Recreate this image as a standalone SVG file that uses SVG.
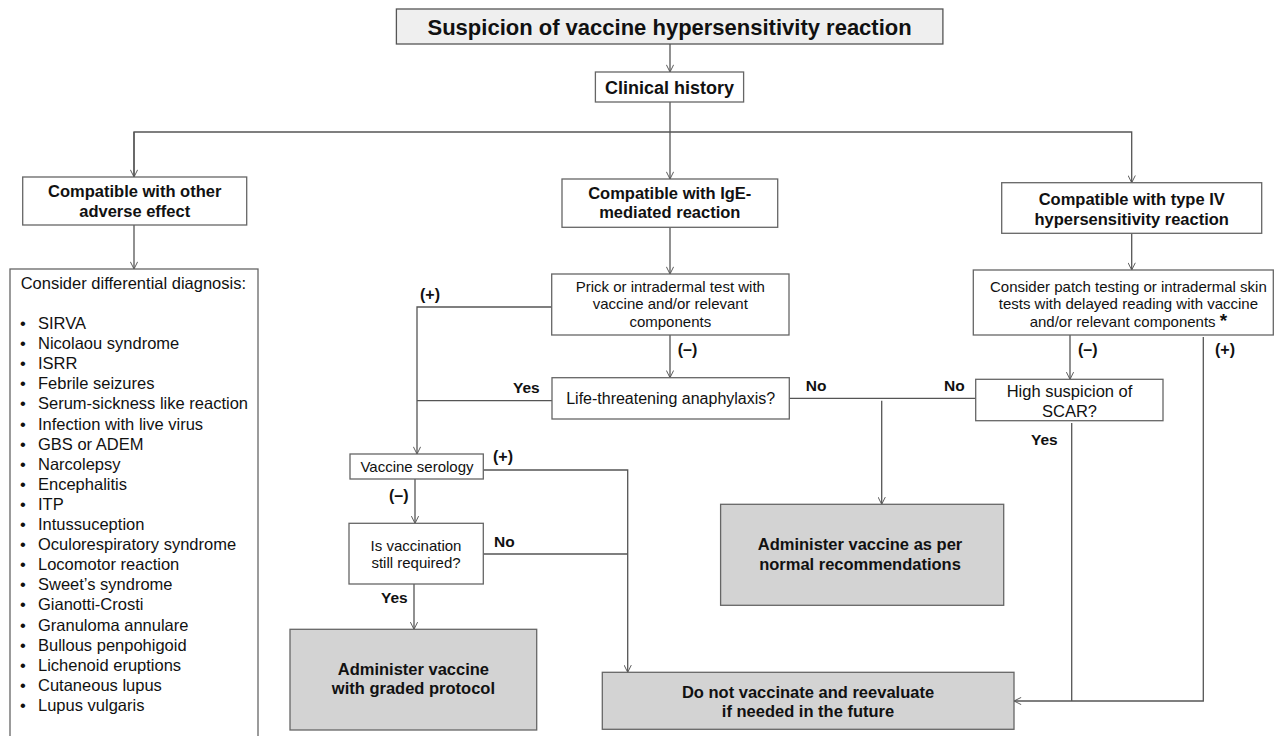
<svg xmlns="http://www.w3.org/2000/svg" width="1274" height="736" viewBox="0 0 1274 736">
<defs>
<marker id="arr" viewBox="0 0 10 10" refX="10" refY="5" markerWidth="8" markerHeight="8" markerUnits="userSpaceOnUse" orient="auto">
<path d="M1,0.5 L10,5 L1,9.5" fill="none" stroke="#555" stroke-width="1.2"/>
</marker>
</defs>
<style>
text{font-family:"Liberation Sans",Arial,sans-serif;fill:#111}
.box{fill:#fff;stroke:#666;stroke-width:1.3}
.gray{fill:#d3d3d3;stroke:#666;stroke-width:1.3}
.title{fill:#efefef;stroke:#555;stroke-width:1.3}
.b{font-weight:bold;font-size:16.5px;text-anchor:middle}
.r{font-size:15px;text-anchor:middle}
.lab{font-weight:bold;font-size:15.5px}
.ln{fill:none;stroke:#555;stroke-width:1.3}
.li{font-size:16.5px}
</style>
<rect width="1274" height="736" fill="#fff"/>
<g id="connectors">
<line class="ln" x1="670" y1="44" x2="670" y2="72" marker-end="url(#arr)"/>
<line class="ln" x1="670" y1="102" x2="670" y2="132"/>
<polyline class="ln" points="134,177 134,132 1131.7,132 1131.7,182.7" marker-end="url(#arr)"/>
<line class="ln" x1="134" y1="132" x2="134" y2="177" marker-end="url(#arr)"/>
<line class="ln" x1="670" y1="132" x2="670" y2="179" marker-end="url(#arr)"/>
<line class="ln" x1="134" y1="225" x2="134" y2="269" marker-end="url(#arr)"/>
<line class="ln" x1="670" y1="227" x2="670" y2="274" marker-end="url(#arr)"/>
<line class="ln" x1="1131.7" y1="233" x2="1131.7" y2="270" marker-end="url(#arr)"/>
<polyline class="ln" points="552,307 417,307 417,454" marker-end="url(#arr)"/>
<line class="ln" x1="417" y1="400.7" x2="552" y2="400.7"/>
<line class="ln" x1="670" y1="335" x2="670" y2="377.7" marker-end="url(#arr)"/>
<line class="ln" x1="789.3" y1="398.3" x2="976" y2="398.3"/>
<line class="ln" x1="881.7" y1="400.7" x2="881.7" y2="504.3" marker-end="url(#arr)"/>
<line class="ln" x1="1070" y1="335" x2="1070" y2="379.3" marker-end="url(#arr)"/>
<polyline class="ln" points="483.3,470 627.7,470 627.7,672.3" marker-end="url(#arr)"/>
<line class="ln" x1="483.3" y1="554" x2="627.7" y2="554"/>
<line class="ln" x1="415" y1="479" x2="415" y2="523.3" marker-end="url(#arr)"/>
<line class="ln" x1="414" y1="584" x2="414" y2="629.3" marker-end="url(#arr)"/>
<polyline class="ln" points="1203.3,337 1203.3,701 1014,701" marker-end="url(#arr)"/>
<line class="ln" x1="1071.7" y1="423" x2="1071.7" y2="701"/>
<text class="lab" x="420" y="300" style="font-size:16px">(+)</text>
<text class="lab" x="677.7" y="355" style="font-size:16px">(–)</text>
<text class="lab" x="513" y="392.7">Yes</text>
<text class="lab" x="805.7" y="390.7">No</text>
<text class="lab" x="944" y="390.7">No</text>
<text class="lab" x="1078" y="355" style="font-size:16px">(–)</text>
<text class="lab" x="1215" y="355" style="font-size:16px">(+)</text>
<text class="lab" x="1031" y="445">Yes</text>
<text class="lab" x="493" y="461.7" style="font-size:16px">(+)</text>
<text class="lab" x="389" y="500.7" style="font-size:16px">(–)</text>
<text class="lab" x="494" y="547">No</text>
<text class="lab" x="381" y="603">Yes</text>
</g>
<g id="title">
<rect class="title" x="396.4" y="9" width="546.5" height="35"/>
<text x="669.6" y="34.5" style="font-weight:bold;font-size:22px;text-anchor:middle">Suspicion of vaccine hypersensitivity reaction</text>
</g>
<g id="clinical-history">
<rect class="box" x="595.4" y="72" width="148.2" height="30"/>
<text x="669.5" y="93.5" style="font-weight:bold;font-size:18px;text-anchor:middle">Clinical history</text>
</g>
<g id="other-adverse">
<rect class="box" x="22.7" y="177" width="224" height="48"/>
<text class="b" x="134.7" y="197.3">Compatible with other</text>
<text class="b" x="134.7" y="216.7">adverse effect</text>
</g>
<g id="ige">
<rect class="box" x="562" y="179" width="215.7" height="48.3"/>
<text class="b" x="669.8" y="198.5">Compatible with IgE-</text>
<text class="b" x="669.8" y="218">mediated reaction</text>
</g>
<g id="type4">
<rect class="box" x="1001.7" y="182.7" width="260" height="50.6"/>
<text class="b" x="1131.7" y="205">Compatible with type IV</text>
<text class="b" x="1131.7" y="224.5">hypersensitivity reaction</text>
</g>
<g id="differential">
<rect class="box" x="10" y="269" width="248" height="480"/>
<text class="li" x="20.7" y="288.5">Consider differential diagnosis:</text>
<g class="li">
<text x="20" y="329">•</text><text x="38" y="329">SIRVA</text>
<text x="20" y="349.1">•</text><text x="38" y="349.1">Nicolaou syndrome</text>
<text x="20" y="369.2">•</text><text x="38" y="369.2">ISRR</text>
<text x="20" y="389.3">•</text><text x="38" y="389.3">Febrile seizures</text>
<text x="20" y="409.4">•</text><text x="38" y="409.4">Serum-sickness like reaction</text>
<text x="20" y="429.5">•</text><text x="38" y="429.5">Infection with live virus</text>
<text x="20" y="449.6">•</text><text x="38" y="449.6">GBS or ADEM</text>
<text x="20" y="469.7">•</text><text x="38" y="469.7">Narcolepsy</text>
<text x="20" y="489.8">•</text><text x="38" y="489.8">Encephalitis</text>
<text x="20" y="509.9">•</text><text x="38" y="509.9">ITP</text>
<text x="20" y="530">•</text><text x="38" y="530">Intussuception</text>
<text x="20" y="550.1">•</text><text x="38" y="550.1">Oculorespiratory syndrome</text>
<text x="20" y="570.2">•</text><text x="38" y="570.2">Locomotor reaction</text>
<text x="20" y="590.3">•</text><text x="38" y="590.3">Sweet’s syndrome</text>
<text x="20" y="610.4">•</text><text x="38" y="610.4">Gianotti-Crosti</text>
<text x="20" y="630.5">•</text><text x="38" y="630.5">Granuloma annulare</text>
<text x="20" y="650.6">•</text><text x="38" y="650.6">Bullous penpohigoid</text>
<text x="20" y="670.7">•</text><text x="38" y="670.7">Lichenoid eruptions</text>
<text x="20" y="690.8">•</text><text x="38" y="690.8">Cutaneous lupus</text>
<text x="20" y="710.9">•</text><text x="38" y="710.9">Lupus vulgaris</text>
</g>
</g>
<g id="prick-test">
<rect class="box" x="551.7" y="274" width="237.3" height="61"/>
<text class="r" x="670.3" y="291.7">Prick or intradermal test with</text>
<text class="r" x="670.3" y="309.3">vaccine and/or relevant</text>
<text class="r" x="670.3" y="327">components</text>
</g>
<g id="patch-test">
<rect class="box" x="973.3" y="270" width="300" height="65"/>
<text class="r" x="1128.4" y="291.7">Consider patch testing or intradermal skin</text>
<text class="r" x="1128.4" y="309.3">tests with delayed reading with vaccine</text>
<text class="r" x="1128.4" y="327.3">and/or relevant components <tspan style="font-weight:bold;font-size:19px">*</tspan></text>
</g>
<g id="life-threatening">
<rect class="box" x="552" y="377.7" width="237.3" height="41.3"/>
<text x="670.7" y="404" style="font-size:16px;text-anchor:middle">Life-threatening anaphylaxis?</text>
</g>
<g id="scar">
<rect class="box" x="975.7" y="379.3" width="187.3" height="41.4"/>
<text x="1069.5" y="396.7" style="font-size:16.5px;text-anchor:middle">High suspicion of</text>
<text x="1069.5" y="416.7" style="font-size:16.5px;text-anchor:middle">SCAR?</text>
</g>
<g id="serology">
<rect class="box" x="350" y="454" width="133.3" height="25"/>
<text class="r" x="417" y="471.7">Vaccine serology</text>
</g>
<g id="still-required">
<rect class="box" x="349" y="523.3" width="134.3" height="60.7"/>
<text class="r" x="416" y="550.7">Is vaccination</text>
<text class="r" x="416" y="568.3">still required?</text>
</g>
<g id="administer-normal">
<rect class="gray" x="720.6" y="504.3" width="283.1" height="101"/>
<text class="b" x="860" y="550">Administer vaccine as per</text>
<text class="b" x="860" y="570">normal recommendations</text>
</g>
<g id="administer-graded">
<rect class="gray" x="290" y="629.3" width="246.7" height="100.7"/>
<text class="b" x="413.4" y="675">Administer vaccine</text>
<text class="b" x="413.4" y="694.3">with graded protocol</text>
</g>
<g id="do-not-vaccinate">
<rect class="gray" x="602.3" y="672.3" width="411.7" height="57"/>
<text class="b" x="808" y="698">Do not vaccinate and reevaluate</text>
<text class="b" x="808" y="717.3">if needed in the future</text>
</g>
</svg>
